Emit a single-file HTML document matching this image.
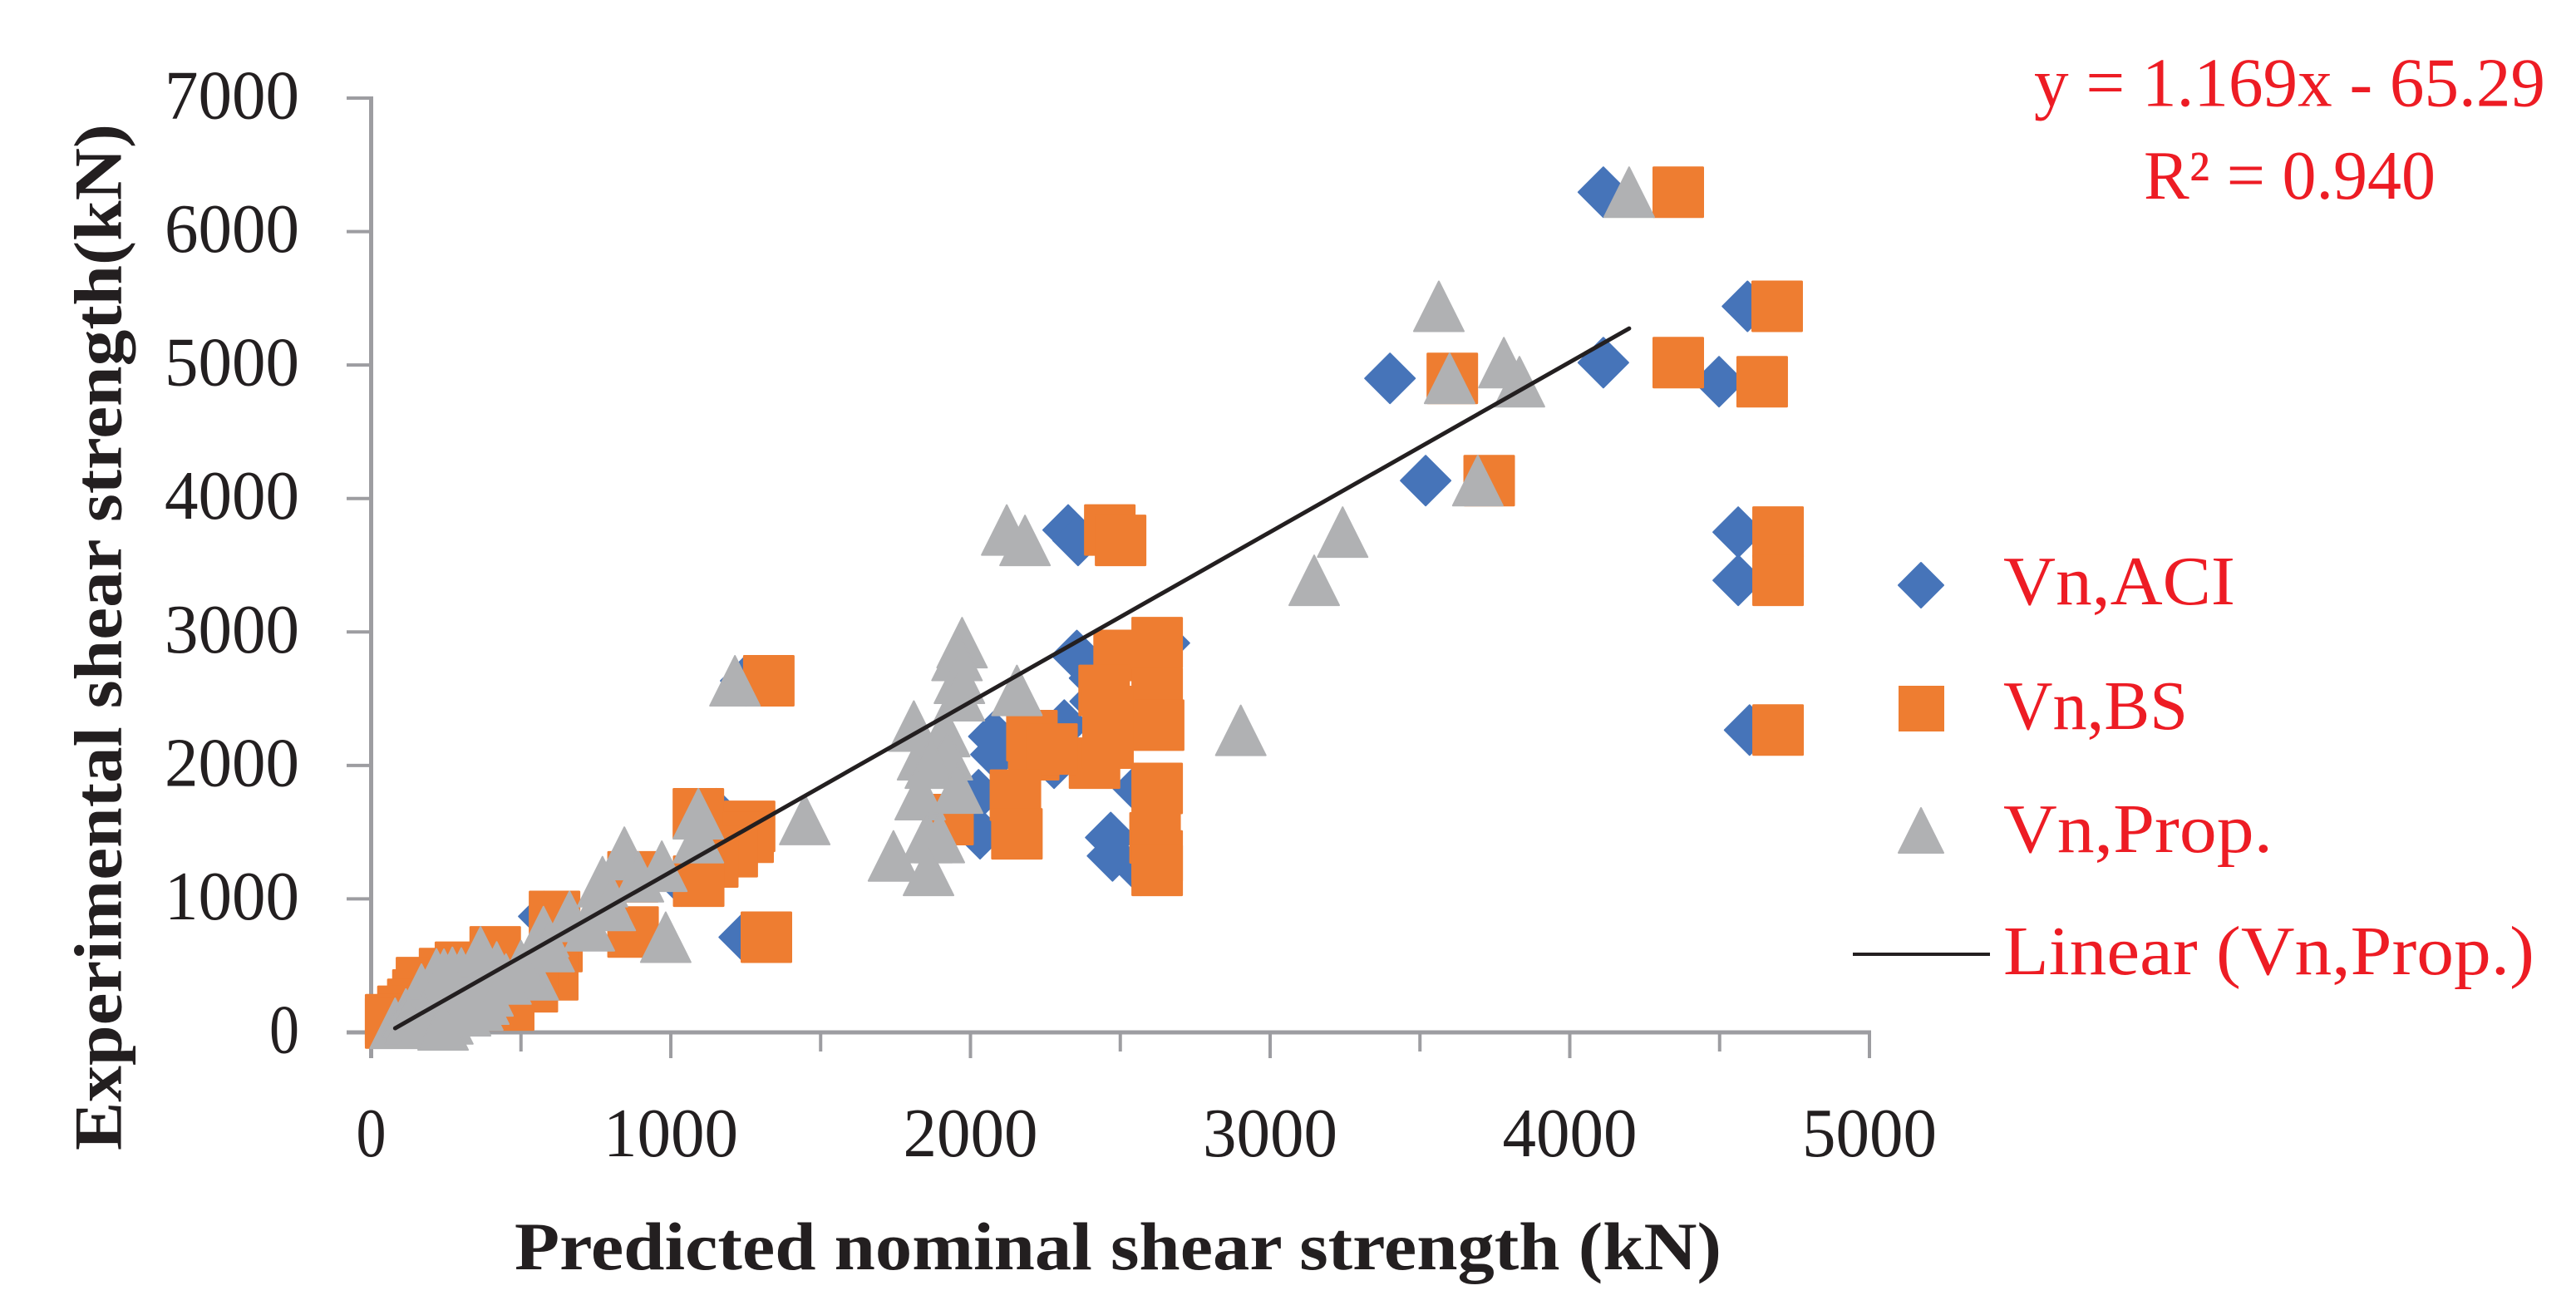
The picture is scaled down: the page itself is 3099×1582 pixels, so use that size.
<!DOCTYPE html>
<html lang="en">
<head>
<meta charset="utf-8">
<title>Experimental vs predicted shear strength</title>
<style>
html,body{margin:0;padding:0;background:#fff;width:3099px;height:1582px;overflow:hidden}
svg{display:block;font-family:"Liberation Serif",serif}
</style>
</head>
<body>
<svg id="chart" xmlns="http://www.w3.org/2000/svg" width="3099" height="1582" viewBox="0 0 3099 1582">
  <rect width="3099" height="1582" fill="#fff"/>
  <g id="axes"></g>
  <g id="marks"></g>
  <text transform="translate(145.5,1384) rotate(-90)" font-size="82" font-weight="bold" fill="#231f20" textLength="1235" lengthAdjust="spacingAndGlyphs">Experimental shear strength(kN)</text>
  <text x="619" y="1527" font-size="82" font-weight="bold" fill="#231f20" textLength="1452" lengthAdjust="spacingAndGlyphs">Predicted nominal shear strength (kN)</text>
  <text x="2447" y="127.5" font-size="84" fill="#ed1c24" textLength="615" lengthAdjust="spacingAndGlyphs">y = 1.169x - 65.29</text>
  <text x="2579" y="239" font-size="84" fill="#ed1c24" textLength="351" lengthAdjust="spacingAndGlyphs">R² = 0.940</text>
  <g>
    <g>
      <path d="M2311 677L2338 704L2311 731L2284 704Z" fill="#4674b9" stroke="#4674b9" stroke-width="2" stroke-linejoin="round"/>
      <text x="2410" y="727" font-size="84" fill="#ed1c24" textLength="279" lengthAdjust="spacingAndGlyphs">Vn,ACI</text>
    </g>
    <g>
      <rect x="2284" y="825" width="55" height="55" fill="#ee7d31"/>
      <text x="2410" y="877" font-size="84" fill="#ed1c24" textLength="222" lengthAdjust="spacingAndGlyphs">Vn,BS</text>
    </g>
    <g>
      <path d="M2311 972L2338 1026L2284 1026Z" fill="#b0b1b3" stroke="#b0b1b3" stroke-width="2" stroke-linejoin="round"/>
      <text x="2410" y="1025" font-size="84" fill="#ed1c24" textLength="324" lengthAdjust="spacingAndGlyphs">Vn,Prop.</text>
    </g>
    <g>
      <line x1="2229" y1="1148" x2="2394" y2="1148" stroke="#231f20" stroke-width="4"/>
      <text x="2410" y="1172" font-size="84" fill="#ed1c24" textLength="639" lengthAdjust="spacingAndGlyphs">Linear (Vn,Prop.)</text>
    </g>
  </g>
</svg>
<script>
var xTickValues = [0, 1000, 2000, 3000, 4000, 5000];
var xMinorTickValues = [500, 1500, 2500, 3500, 4500];
var yTickValues = [0, 1000, 2000, 3000, 4000, 5000, 6000, 7000];

var aciX = [4112,4593,3400,4112,4498,3519,4562,4562,4600,2326,2359,2647,2355,2414,2313,2416,2078,2085,2027,2032,2279,2559,2468,2474,2568,1250,1245,1152,1036,576];
var aciY = [6295,5440,4900,5018,4875,4134,3748,3387,2265,3764,3686,2917,2824,2654,2302,2480,2217,2082,1780,1488,2017,1828,1460,1322,1214,2634,713,1638,1133,869];

var bsX = [4362,4692,3608,4362,4642,3731,4695,4695,4695,2465,2501,2623,2496,2446,2623,2628,2459,2414,2459,2205,2211,2272,2150,2155,2623,2616,2623,2623,1925,1327,1319,1092,1263,1258,1205,1140,1093,874,874,612,620,606,538,459,414,298,245,168,156,139,106,65,65];
var bsY = [6295,5440,4900,5018,4875,4134,3748,3387,2265,3764,3686,2920,2824,2562,2540,2302,2404,2017,2167,2223,2080,2123,1777,1488,1828,1457,1322,1214,1594,2634,713,1638,1544,1462,1354,1277,1133,1165,752,869,643,431,342,205,603,488,441,373,280,210,158,95,70];

var propX = [4198,3563,3599,3780,3832,3693,3242,3147,2121,2182,1972,1955,1963,1963,2155,1811,1914,1923,1840,1866,1832,1957,1896,1855,1743,1860,2902,1214,983,1447,1092,1092,845,842,970,776,892,772,662,575,798,728,594,541,80,116,168,218,243,271,301,365,419,256,123,390,376,356,287,176,240,315,380,450,500];
var propY = [6295,5440,4900,5018,4875,4134,3748,3387,3764,3686,2920,2824,2653,2522,2562,2295,2254,2080,2080,2017,1781,1830,1460,1460,1322,1214,2263,2634,713,1595,1638,1459,1350,1332,1245,1052,1166,1129,869,755,951,799,643,431,68,138,324,438,436,450,445,603,490,101,91,311,249,205,260,100,56,162,470,400,500];

var trendX = [80, 4198];
var trendY = [31, 5274];

var SVGNS = 'http://www.w3.org/2000/svg';
var X0 = 446.5, XS = 0.3605, Y0 = 1242, YS = 0.16057;
var HALF = 31;
function sx(v) { return X0 + v * XS; }
function sy(v) { return Y0 - v * YS; }
function make(tag, parent) {
  var el = document.createElementNS(SVGNS, tag);
  parent.appendChild(el);
  return el;
}
function hairline(parent, x1, y1, x2, y2, w) {
  var l = make('line', parent);
  l.setAttribute('x1', x1);
  l.setAttribute('y1', y1);
  l.setAttribute('x2', x2);
  l.setAttribute('y2', y2);
  l.setAttribute('stroke', '#9d9da1');
  l.setAttribute('stroke-width', w);
  return l;
}
function tickWidth(v) { return v === 0 ? 36 : 162; }

var axes = document.getElementById('axes');
var marks = document.getElementById('marks');

var yAxisLine = hairline(axes, sx(0), sy(7000) - 2, sx(0), 1273, 5);


var xAxisLine = hairline(axes, 417, sy(0), sx(5000) + 2, sy(0), 5);



yTickValues.forEach(function (v) {
  var t = hairline(axes, 417, sy(v), sx(0), sy(v), 4);
  
  
  var lb = make('text', axes);
  
  
  lb.setAttribute('x', 360 - tickWidth(v));
  lb.setAttribute('y', sy(v) + 24.5);
  lb.setAttribute('textLength', tickWidth(v));
  lb.setAttribute('lengthAdjust', 'spacingAndGlyphs');
  lb.setAttribute('font-size', '84');
  lb.setAttribute('fill', '#231f20');
  lb.textContent = String(v);
});
xTickValues.forEach(function (v) {
  var t = hairline(axes, sx(v), sy(0), sx(v), 1273, 4);
  
  
  var lb = make('text', axes);
  
  
  lb.setAttribute('x', sx(v) - tickWidth(v) / 2);
  lb.setAttribute('y', 1391);
  lb.setAttribute('textLength', tickWidth(v));
  lb.setAttribute('lengthAdjust', 'spacingAndGlyphs');
  lb.setAttribute('font-size', '84');
  lb.setAttribute('fill', '#231f20');
  lb.textContent = String(v);
});
xMinorTickValues.forEach(function (v) {
  var t = hairline(axes, sx(v), sy(0), sx(v), 1265, 4);
  
  
});

aciX.forEach(function (v, i) {
  var cx = sx(v), cy = sy(aciY[i]), h = HALF - 1;
  var p = make('path', marks);
  
  
  p.setAttribute('d', 'M' + cx + ' ' + (cy - h) + 'L' + (cx + h) + ' ' + cy + 'L' + cx + ' ' + (cy + h) + 'L' + (cx - h) + ' ' + cy + 'Z');
  p.setAttribute('fill', '#4674b9');
  p.setAttribute('stroke', '#4674b9');
  p.setAttribute('stroke-width', '2');
  p.setAttribute('stroke-linejoin', 'round');
});
bsX.forEach(function (v, i) {
  var cx = sx(v), cy = sy(bsY[i]);
  var r = make('rect', marks);
  
  
  r.setAttribute('x', cx - HALF);
  r.setAttribute('y', cy - HALF);
  r.setAttribute('width', 2 * HALF);
  r.setAttribute('height', 2 * HALF);
  r.setAttribute('rx', '1.5');
  r.setAttribute('fill', '#ee7d31');
});
propX.forEach(function (v, i) {
  var cx = sx(v), cy = sy(propY[i]), h = HALF - 1;
  var p = make('path', marks);
  
  
  p.setAttribute('d', 'M' + cx + ' ' + (cy - h) + 'L' + (cx + h) + ' ' + (cy + h) + 'L' + (cx - h) + ' ' + (cy + h) + 'Z');
  p.setAttribute('fill', '#b0b1b3');
  p.setAttribute('stroke', '#b0b1b3');
  p.setAttribute('stroke-width', '2');
  p.setAttribute('stroke-linejoin', 'round');
});

var trend = make('line', marks);


trend.setAttribute('x1', sx(trendX[0]));
trend.setAttribute('y1', sy(trendY[0]));
trend.setAttribute('x2', sx(trendX[1]));
trend.setAttribute('y2', sy(trendY[1]));
trend.setAttribute('stroke', '#231f20');
trend.setAttribute('stroke-width', '5');
trend.setAttribute('stroke-linecap', 'round');
</script>
</body>
</html>
